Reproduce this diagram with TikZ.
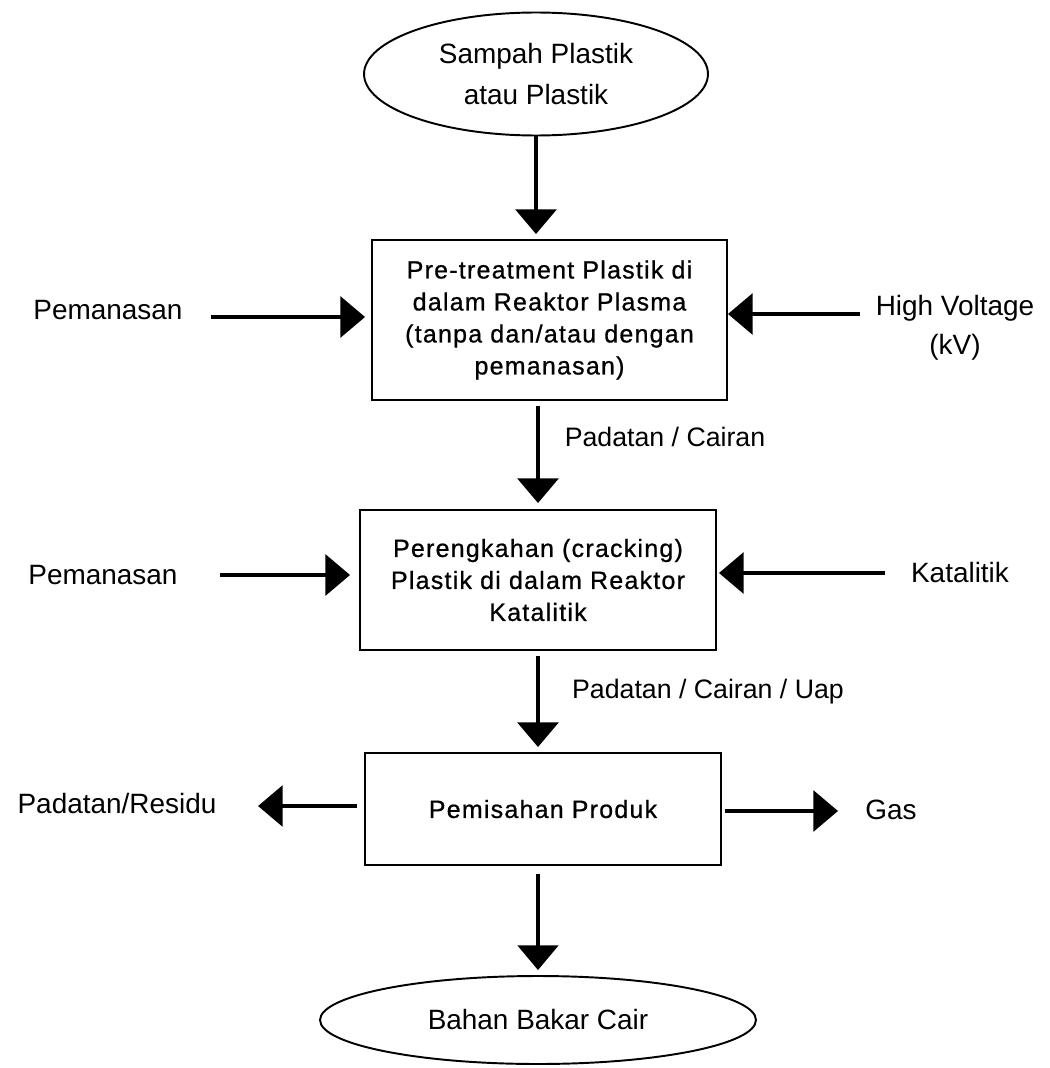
\documentclass[tikz,border=0pt]{standalone}
\usepackage{fontspec}
\setmainfont{Liberation Sans}
\newfontfamily\boxfont[LetterSpace=5,FakeBold=0.8]{Liberation Sans}
\usetikzlibrary{arrows.meta,shapes.geometric}
\begin{document}
\begin{tikzpicture}[x=0.02cm,y=-0.02cm,
  proc/.style={draw, line width=1.1pt, align=center, inner sep=0pt,
    font=\boxfont\fontsize{14.2}{18.2}\selectfont},
  term/.style={ellipse, draw, line width=1.1pt, align=center, inner sep=0pt,
    font=\fontsize{15.9}{22.8}\selectfont},
  lbl/.style={inner sep=0pt, align=center, font=\fontsize{15.9}{22.2}\selectfont},
  slbl/.style={inner sep=0pt, align=center, font=\fontsize{15.2}{20}\selectfont},
  arr/.style={line width=2.6pt, -{Triangle[length=14pt,width=23pt]}},
  thinarr/.style={line width=1.8pt, -{Triangle[length=14pt,width=23pt]}}
]
\useasboundingbox (0,0) rectangle (1049,1068);

% main flow nodes
\node[term, minimum width=6.88cm, minimum height=2.46cm] (e1) at (536,74)
  {Sampah Plastik\\atau Plastik};
\node[proc, minimum width=7.1cm, minimum height=3.2cm] (b1) at (549.5,320)
  {Pre-treatment Plastik di\\dalam Reaktor Plasma\\(tanpa dan/atau dengan\\pemanasan)};
\node[proc, minimum width=7.12cm, minimum height=2.8cm] (b2) at (538,580)
  {Perengkahan (cracking)\\Plastik di dalam Reaktor\\Katalitik};
\node[proc, minimum width=7.12cm, minimum height=2.24cm] (b3) at (543,809)
  {Pemisahan Produk};
\node[term, minimum width=8.72cm, minimum height=1.76cm] (e2) at (538,1020)
  {Bahan Bakar Cair};

% side labels
\node[lbl] (pem1) at (108,310) {Pemanasan};
\node[lbl] (hv) at (955,328) {High Voltage\\(kV)};
\node[slbl] (pc1) at (665,437) {Padatan / Cairan};
\node[lbl] (pem2) at (103,575) {Pemanasan};
\node[lbl] (kat) at (960,573) {Katalitik};
\node[slbl] (pc2) at (708,692) {Padatan / Cairan / Uap};
\node[lbl] (res) at (117,804) {Padatan/Residu};
\node[lbl] (gas) at (891,810) {Gas};

% arrow free ends
\coordinate (l1) at (211,317);
\coordinate (r1) at (860,314);
\coordinate (l2) at (220,575);
\coordinate (r2) at (885,573);
\coordinate (o1) at (258,806);
\coordinate (o2) at (838,811);

% vertical connectors
\draw[arr, shorten >=0.1cm] (e1.south) -- (e1.south |- b1.north);
\draw[arr, shorten <=0.1cm, shorten >=0.12cm] (b1.south -| b2.north) -- (b2.north);
\draw[arr, shorten <=0.1cm, shorten >=0.1cm] (b2.south) -- (b2.south |- b3.north);
\draw[thinarr, shorten <=0.16cm, shorten >=0.1cm] (b3.south -| e2.north) -- (e2.north);

% horizontal connectors
\draw[arr, shorten >=0.12cm] (l1) -- (l1 -| b1.west);
\draw[arr] (r1) -- (r1 -| b1.east);
\draw[arr, shorten >=0.18cm] (l2) -- (l2 -| b2.west);
\draw[arr, shorten >=0.04cm] (r2) -- (r2 -| b2.east);
\draw[arr, shorten <=0.14cm] (o1 -| b3.west) -- (o1);
\draw[arr, shorten <=0.06cm] (o2 -| b3.east) -- (o2);
\end{tikzpicture}
\end{document}
